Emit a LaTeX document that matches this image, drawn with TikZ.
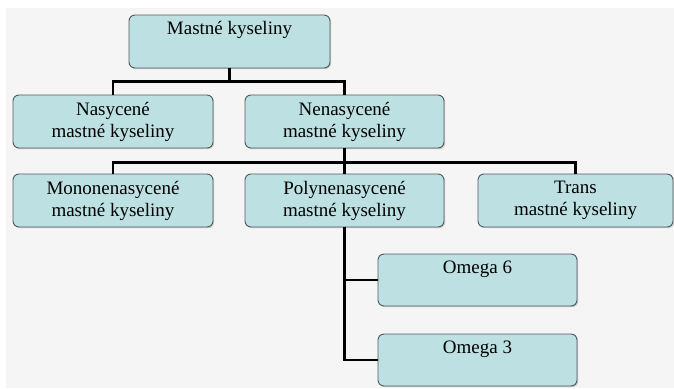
\documentclass[tikz,border=0pt]{standalone}
\usepackage{fontspec}
\setmainfont{LiberationSerif}[Extension=.ttf,UprightFont=*-Regular,BoldFont=*-Bold]
\usepackage{xcolor}
\usepackage{tikz}
\usetikzlibrary{shadows}
\definecolor{boxfill}{HTML}{BDE0E3}
\definecolor{boxline}{HTML}{505A5C}
\definecolor{backgr}{HTML}{F5F5F5}

\begin{document}
\begin{tikzpicture}[x=1pt,y=-1pt]
\tikzstyle{mybox}=[rectangle,draw=boxline,fill=boxfill,line width=0.9pt,rounded corners=6pt,
  drop shadow={shadow xshift=1.2pt,shadow yshift=-1.2pt,opacity=0.35},
  align=center,inner sep=0pt,font=\fontsize{19}{22}\selectfont];
\tikzstyle{topbox}=[mybox,text height=19pt];
\tikzstyle{mylines}=[line width=2.2pt,black];
\useasboundingbox (0,0) rectangle (674,388);
\fill[backgr] (6,8) rectangle (674,388);
\node[topbox,minimum width=201pt,text depth=34pt](x1) at (229.5,41.5){Mastné kyseliny};
\node[mybox,minimum width=200pt,minimum height=53pt](x2) at (113,121.5){Nasycené\\mastné kyseliny};
\node[mybox,minimum width=199pt,minimum height=53pt](x3) at (344.5,121.5){Nenasycené\\mastné kyseliny};
\node[mybox,minimum width=200pt,minimum height=53pt](x4) at (113,200.5){Mononenasycené\\mastné kyseliny};
\node[mybox,minimum width=199pt,minimum height=53pt](x5) at (344.5,200.5){Polynenasycené\\mastné kyseliny};
\node[mybox,minimum width=195pt,minimum height=53pt](x6) at (575.5,200.5){Trans\\mastné kyseliny};
\node[topbox,minimum width=199pt,text depth=33pt](x7) at (477.5,280){Omega 6};
\node[topbox,minimum width=199pt,text depth=33pt](x8) at (477.5,360){Omega 3};
\draw [mylines] (x1.south) -- ++(0,13) coordinate(b1);
\draw [mylines] (b1) -| (x2.north);
\draw [mylines] (b1) -| (x3.north);
\draw [mylines] (x3.south) -- ++(0,14) coordinate(b2);
\draw [mylines] (b2) -| (x4.north);
\draw [mylines] (b2) -- (x5.north);
\draw [mylines] (b2) -| (x6.north);
\draw [mylines] (x5.south) |- (x7.west);
\draw [mylines] (x5.south) |- (x8.west);
\end{tikzpicture}
\end{document}
